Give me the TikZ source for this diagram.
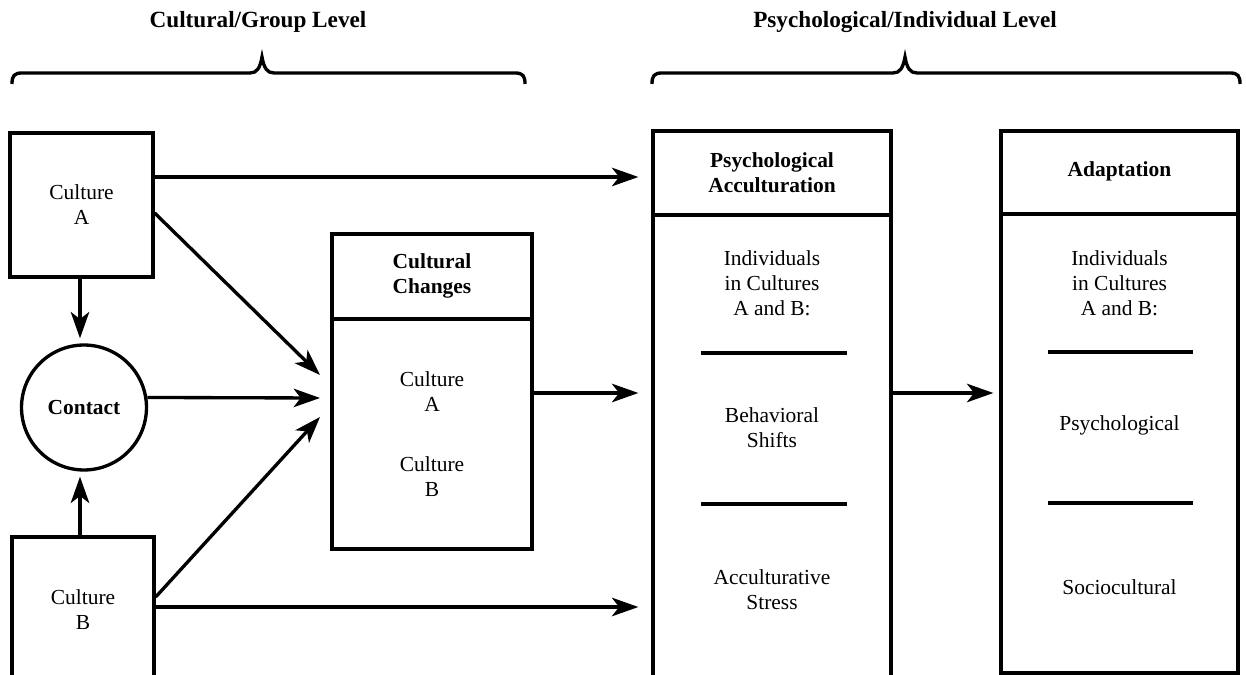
\documentclass[tikz,border=0pt]{standalone}
\usepackage{fontspec}
\setmainfont{Liberation Serif}
\usetikzlibrary{arrows.meta}

\begin{document}
\begin{tikzpicture}[x=0.02cm, y=-0.02cm, line width=1.9pt,
	box/.style={shape=rectangle, draw, line width=1.9pt, align=center, font=\fontsize{12.2}{14.2}\selectfont},
	txt/.style={anchor=center, align=center, inner sep=0pt, font=\fontsize{12.2}{14.2}\selectfont},
	head/.style={anchor=center, align=center, inner sep=0pt, font=\fontsize{12.2}{14.2}\selectfont\bfseries},
	title/.style={anchor=center, inner sep=0pt, font=\fontsize{13.2}{16}\selectfont\bfseries},
	arr/.style={-{Stealth[length=15pt, width=10.5pt, inset=4pt]}, line width=1.9pt}]
	\useasboundingbox (0, 0) rectangle (1246, 675);
	\clip (0, 0) rectangle (1246, 675);
	% Levels:
	\node[title] (grp) at (258, 22) {Cultural/Group Level};
	\node[title] (ind) at (905, 22) {Psychological/Individual Level};
	\draw (12, 84) .. controls (12, 76) and (14, 73) .. (22, 73) -- (250, 73) .. controls (257, 73) and (260, 68) .. (262, 57) .. controls (264, 68) and (267, 73) .. (274, 73) -- (515, 73) .. controls (523, 73) and (525, 76) .. (525, 84);
	\draw (652, 84) .. controls (652, 76) and (654, 73) .. (662, 73) -- (893, 73) .. controls (900, 73) and (903, 68) .. (905, 57) .. controls (907, 68) and (910, 73) .. (917, 73) -- (1230, 73) .. controls (1238, 73) and (1240, 76) .. (1240, 84);
	% Cultures and contact:
	\node[box, minimum width=2.86cm, minimum height=2.88cm] (ca) at (81.5, 205) {Culture\\A};
	\node[box, shape=circle, minimum size=2.5cm, font=\fontsize{12.2}{14.2}\selectfont\bfseries] (contact) at (84, 407.5) {Contact};
	\node[box, minimum width=2.84cm, minimum height=3.66cm] (cb) at (83, 628.5) {};
	\node[txt] (cbtext) at (83, 610) {Culture\\B};
	% Cultural changes:
	\node[box, minimum width=4cm, minimum height=6.3cm] (cc) at (432, 391.5) {};
	\draw (cc.west |- 0, 319) -- (cc.east |- 0, 319);
	\node[head] (cchead) at (432, 276) {Cultural\\Changes};
	\node[txt] (ccA) at (432, 392) {Culture\\A};
	\node[txt] (ccB) at (432, 477) {Culture\\B};
	% Psychological acculturation:
	\node[box, minimum width=4.76cm, minimum height=11.78cm] (psy) at (772, 425.5) {};
	\draw (psy.west |- 0, 215) -- (psy.east |- 0, 215);
	\node[head] (psyhead) at (772, 173) {Psychological\\Acculturation};
	\node[txt] (psyind) at (772, 283) {Individuals\\in Cultures\\A and B:};
	\draw (701, 353) -- (847, 353);
	\node[txt] (psybeh) at (772, 428) {Behavioral\\Shifts};
	\draw (701, 504) -- (847, 504);
	\node[txt] (psystr) at (772, 590) {Acculturative\\Stress};
	% Adaptation:
	\node[box, minimum width=4.74cm, minimum height=10.84cm] (adp) at (1119.5, 402) {};
	\draw (adp.west |- 0, 214) -- (adp.east |- 0, 214);
	\node[head] (adphead) at (1119.5, 171) {Adaptation};
	\node[txt] (adpind) at (1119.5, 283) {Individuals\\in Cultures\\A and B:};
	\draw (1048, 352) -- (1193, 352);
	\node[txt] (adppsy) at (1119.5, 425) {Psychological};
	\draw (1048, 503) -- (1193, 503);
	\node[txt] (adpsoc) at (1119.5, 587) {Sociocultural};
	% Arrows:
	\coordinate (inA) at (320, 375);
	\coordinate (inC) at (320, 398);
	\coordinate (inB) at (320, 417);
	\draw[arr, shorten >=0.1cm] (ca.south -| 80, 0) -- (contact.north -| 80, 0);
	\draw[arr, shorten >=0.1cm] (cb.north -| 80, 0) -- (contact.south -| 80, 0);
	\draw[arr] (ca.east |- 0, 213) -- (inA);
	\draw[arr] (contact.9) -- (inC);
	\draw[arr] (cb.east |- 0, 597) -- (inB);
	\draw[arr, shorten >=0.26cm] (ca.east |- 0, 177) -- (psy.west |- 0, 177);
	\draw[arr, shorten >=0.26cm] (cb.east |- 0, 607) -- (psy.west |- 0, 607);
	\draw[arr, shorten >=0.26cm] (cc.east |- 0, 393) -- (psy.west |- 0, 393);
	\draw[arr, shorten >=0.12cm] (psy.east |- 0, 393) -- (adp.west |- 0, 393);
\end{tikzpicture}
\end{document}
